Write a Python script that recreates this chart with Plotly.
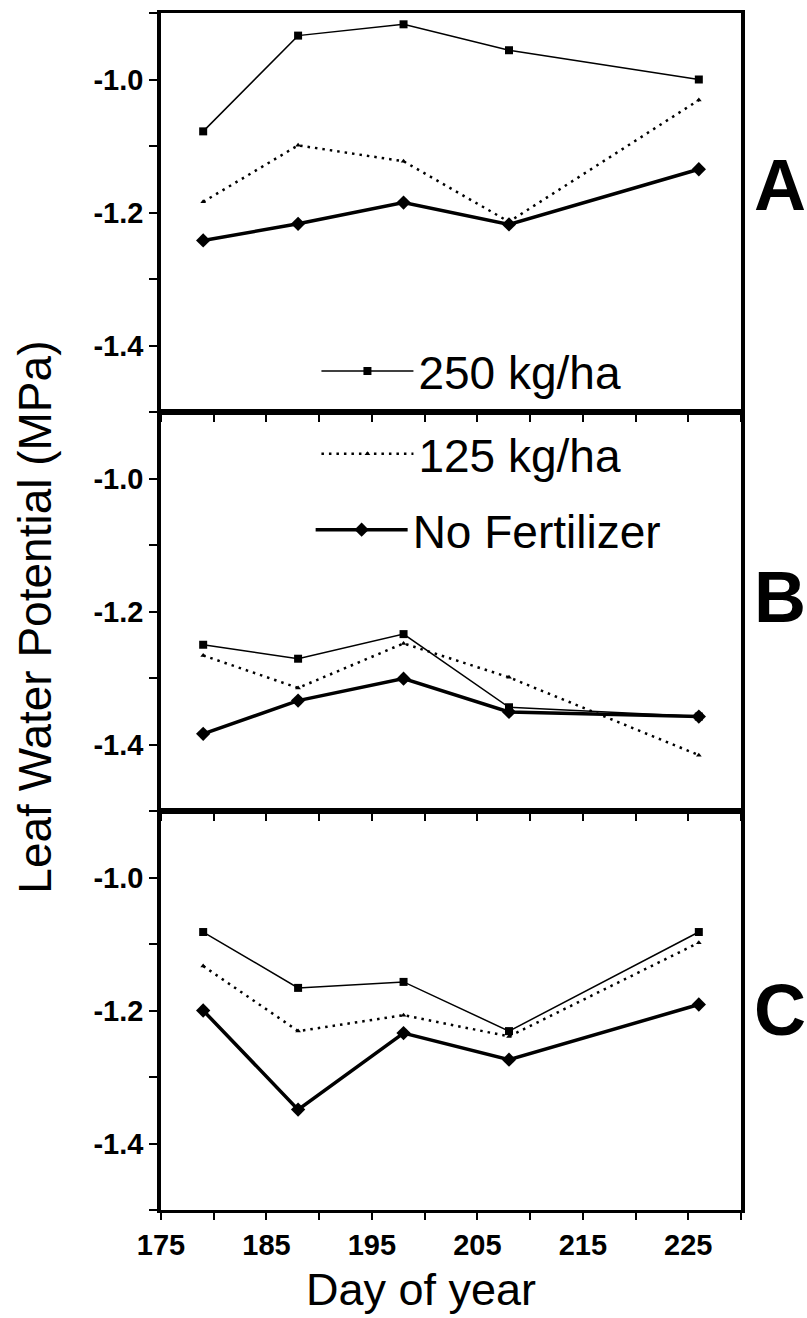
import plotly.graph_objects as go
from plotly.subplots import make_subplots

days = [179, 188, 198, 208, 226]

A_250 = [-1.078, -0.934, -0.917, -0.956, -1.000]
A_125 = [-1.184, -1.099, -1.123, -1.214, -1.031]
A_nf = [-1.242, -1.217, -1.185, -1.218, -1.135]

B_250 = [-1.250, -1.271, -1.234, -1.344, -1.358]
B_125 = [-1.266, -1.315, -1.248, -1.299, -1.416]
B_nf = [-1.384, -1.334, -1.301, -1.351, -1.358]

C_250 = [-1.082, -1.166, -1.157, -1.231, -1.082]
C_125 = [-1.133, -1.231, -1.207, -1.239, -1.098]
C_nf = [-1.200, -1.349, -1.234, -1.274, -1.191]

series_names = ["250 kg/ha", "125 kg/ha", "No Fertilizer"]
panel_labels = ["A", "B", "C"]
y_tickvals = [-1.4, -1.2, -1.0]
y_ticktext = ["-1.4", "-1.2", "-1.0"]
y_minorvals = [-1.5, -1.3, -1.1, -0.9]

FONT = "Liberation Sans, Arial, Helvetica, sans-serif"

fig = make_subplots(rows=3, cols=1, vertical_spacing=0)

panels = [(A_250, A_125, A_nf), (B_250, B_125, B_nf), (C_250, C_125, C_nf)]
for r, (s250, s125, snf) in enumerate(panels, start=1):
    fig.add_trace(go.Scatter(
        x=days, y=s125, mode="lines+markers", name=series_names[1],
        line=dict(color="black", width=2.5, dash="2.5px,5px"),
        marker=dict(symbol="triangle-up", size=5, color="black"),
        showlegend=(r == 1), legend="legend2"), row=r, col=1)
    fig.add_trace(go.Scatter(
        x=days, y=s250, mode="lines+markers", name=series_names[0],
        line=dict(color="black", width=1.5),
        marker=dict(symbol="square", size=8, color="black"),
        showlegend=(r == 1), legend="legend"), row=r, col=1)
    fig.add_trace(go.Scatter(
        x=days, y=snf, mode="lines+markers", name=series_names[2],
        line=dict(color="black", width=3.5),
        marker=dict(symbol="diamond", size=11, color="black"),
        showlegend=(r == 1), legend="legend3"), row=r, col=1)

for r in range(1, 4):
    fig.update_xaxes(
        range=[175, 230], showline=True, linecolor="black", linewidth=2.5,
        mirror=True, ticks="outside", ticklen=7, tickwidth=2, tickcolor="black",
        tickmode="linear", tick0=175, dtick=10,
        minor=dict(tickmode="linear", tick0=175, dtick=5, ticks="outside",
                   ticklen=7, tickwidth=2, tickcolor="black"),
        showgrid=False, zeroline=False, showticklabels=(r == 3),
        tickfont=dict(family=FONT, size=29, color="black", weight="bold"),
        row=r, col=1)
    fig.update_yaxes(
        range=[-1.5, -0.9], showline=True, linecolor="black", linewidth=3.5,
        mirror=True, ticks="outside", ticklen=8, tickwidth=2, tickcolor="black",
        tickmode="array", tickvals=y_tickvals, ticktext=y_ticktext,
        minor=dict(tickmode="array", tickvals=y_minorvals, ticks="outside",
                   ticklen=8, tickwidth=2, tickcolor="black"),
        showgrid=False, zeroline=False,
        tickfont=dict(family=FONT, size=29, color="black", weight="bold"),
        row=r, col=1)

leg_common = dict(xanchor="left", yanchor="middle", bgcolor="rgba(0,0,0,0)",
                  borderwidth=0, itemwidth=92,
                  font=dict(family=FONT, size=46, color="black"))
fig.update_layout(
    width=807, height=1318,
    margin=dict(l=161, r=66, t=10, b=108),
    paper_bgcolor="white", plot_bgcolor="white",
    legend=dict(x=0.268, y=0.7008, **leg_common),
    legend2=dict(x=0.268, y=0.6317, **leg_common),
    legend3=dict(x=0.258, y=0.5683, **leg_common),
)

letter_y = [0.856, 0.5125, 0.1667]
for lab, yy in zip(panel_labels, letter_y):
    fig.add_annotation(x=1.067, y=yy, xref="paper", yref="paper", text=lab,
                       showarrow=False, xanchor="center", yanchor="middle",
                       font=dict(family=FONT, size=72, color="black", weight="bold"))

fig.add_annotation(x=-0.217, y=0.495, xref="paper", yref="paper",
                   text="Leaf Water Potential (MPa)", textangle=-90,
                   showarrow=False, xanchor="center", yanchor="middle",
                   font=dict(family=FONT, size=46, color="black"))
fig.add_annotation(x=0.448, y=-0.0667, xref="paper", yref="paper",
                   text="Day of year", showarrow=False,
                   xanchor="center", yanchor="middle",
                   font=dict(family=FONT, size=45, color="black"))

fig.write_html("out.html")
